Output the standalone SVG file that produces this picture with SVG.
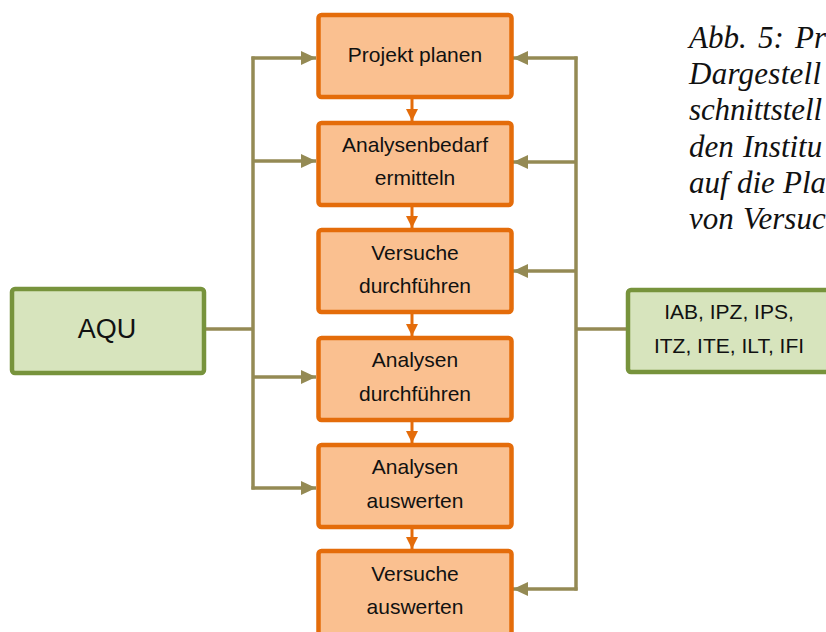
<svg xmlns="http://www.w3.org/2000/svg" width="826" height="632" viewBox="0 0 826 632">
<style>
.step rect{fill:#FAC090;stroke:#E46C0A;stroke-width:4.5}
.org rect{fill:#D7E4BD;stroke:#77933C;stroke-width:4.5}
.lbl{font-family:"Liberation Sans",Arial,sans-serif;font-size:21px;fill:#111;text-anchor:middle}
.cap{font-family:"Liberation Serif","Times New Roman",serif;font-style:italic;font-size:31px;fill:#111}
.flow{stroke:#E46C0A;stroke-width:3;fill:none}
.bus{stroke:#948A54;stroke-width:3.5;fill:none}
</style>
<defs>
<marker id="ao" markerUnits="userSpaceOnUse" markerWidth="12" markerHeight="12" viewBox="0 0 12 12" refX="12" refY="6" orient="auto">
<path d="M0,0 L12,6 L0,12 Z" fill="#E46C0A"/>
</marker>
<marker id="ag" markerUnits="userSpaceOnUse" markerWidth="15" markerHeight="14" viewBox="0 0 15 14" refX="15" refY="7" orient="auto">
<path d="M0,0 L15,7 L0,14 Z" fill="#948A54"/>
</marker>
</defs>

<g id="connectors">
<g id="flow">
<line class="flow" x1="412" y1="99" x2="412" y2="121" marker-end="url(#ao)"/>
<line class="flow" x1="412" y1="207" x2="412" y2="228" marker-end="url(#ao)"/>
<line class="flow" x1="412" y1="314" x2="412" y2="336" marker-end="url(#ao)"/>
<line class="flow" x1="412" y1="422" x2="412" y2="443" marker-end="url(#ao)"/>
<line class="flow" x1="412" y1="529" x2="412" y2="549" marker-end="url(#ao)"/>
</g>
<g id="left-bus">
<line class="bus" x1="206" y1="329" x2="253" y2="329"/>
<line class="bus" x1="253" y1="56.5" x2="253" y2="489.5"/>
<line class="bus" x1="251.5" y1="58" x2="316" y2="58" marker-end="url(#ag)"/>
<line class="bus" x1="253" y1="161" x2="316" y2="161" marker-end="url(#ag)"/>
<line class="bus" x1="253" y1="377" x2="316" y2="377" marker-end="url(#ag)"/>
<line class="bus" x1="251.5" y1="488" x2="316" y2="488" marker-end="url(#ag)"/>
</g>
<g id="right-bus">
<line class="bus" x1="626" y1="329" x2="576" y2="329"/>
<line class="bus" x1="576" y1="56.5" x2="576" y2="590.5"/>
<line class="bus" x1="577.5" y1="58" x2="513" y2="58" marker-end="url(#ag)"/>
<line class="bus" x1="576" y1="162" x2="513" y2="162" marker-end="url(#ag)"/>
<line class="bus" x1="576" y1="271" x2="513" y2="271" marker-end="url(#ag)"/>
<line class="bus" x1="577.5" y1="589" x2="513" y2="589" marker-end="url(#ag)"/>
</g>
</g>

<g id="n1" class="step"><rect x="318.5" y="15" width="193" height="82" rx="3"/><text class="lbl" x="415" y="62">Projekt planen</text></g>
<g id="n2" class="step"><rect x="318.5" y="123" width="193" height="82" rx="3"/><text class="lbl" x="415" y="152">Analysenbedarf</text><text class="lbl" x="415" y="185">ermitteln</text></g>
<g id="n3" class="step"><rect x="318.5" y="230" width="193" height="82" rx="3"/><text class="lbl" x="415" y="260">Versuche</text><text class="lbl" x="415" y="293">durchführen</text></g>
<g id="n4" class="step"><rect x="318.5" y="338" width="193" height="82" rx="3"/><text class="lbl" x="415" y="367">Analysen</text><text class="lbl" x="415" y="401">durchführen</text></g>
<g id="n5" class="step"><rect x="318.5" y="445" width="193" height="82" rx="3"/><text class="lbl" x="415" y="474">Analysen</text><text class="lbl" x="415" y="508">auswerten</text></g>
<g id="n6" class="step"><rect x="318.5" y="551" width="193" height="84" rx="3"/><text class="lbl" x="415" y="581">Versuche</text><text class="lbl" x="415" y="614">auswerten</text></g>

<g id="aqu" class="org"><rect x="12" y="289" width="192" height="84" rx="3"/><text class="lbl" x="107" y="338" style="font-size:27px">AQU</text></g>
<g id="inst" class="org"><rect x="628" y="290" width="210" height="82" rx="3"/><text class="lbl" x="729" y="319">IAB, IPZ, IPS,</text><text class="lbl" x="729" y="353">ITZ, ITE, ILT, IFI</text></g>

<g id="caption" class="cap">
<text x="689" y="48">Abb.</text><text x="758" y="48">5:</text><text x="795" y="48">Pr</text>
<text x="689" y="84" textLength="132" lengthAdjust="spacing">Dargestell</text>
<text x="689" y="120" textLength="133" lengthAdjust="spacing">schnittstell</text>
<text x="689" y="157">den</text><text x="743" y="157">Institu</text>
<text x="689" y="193">auf</text><text x="737" y="193">die</text><text x="783" y="193">Pla</text>
<text x="689" y="229">von</text><text x="743" y="229">Versuc</text>
</g>
</svg>
